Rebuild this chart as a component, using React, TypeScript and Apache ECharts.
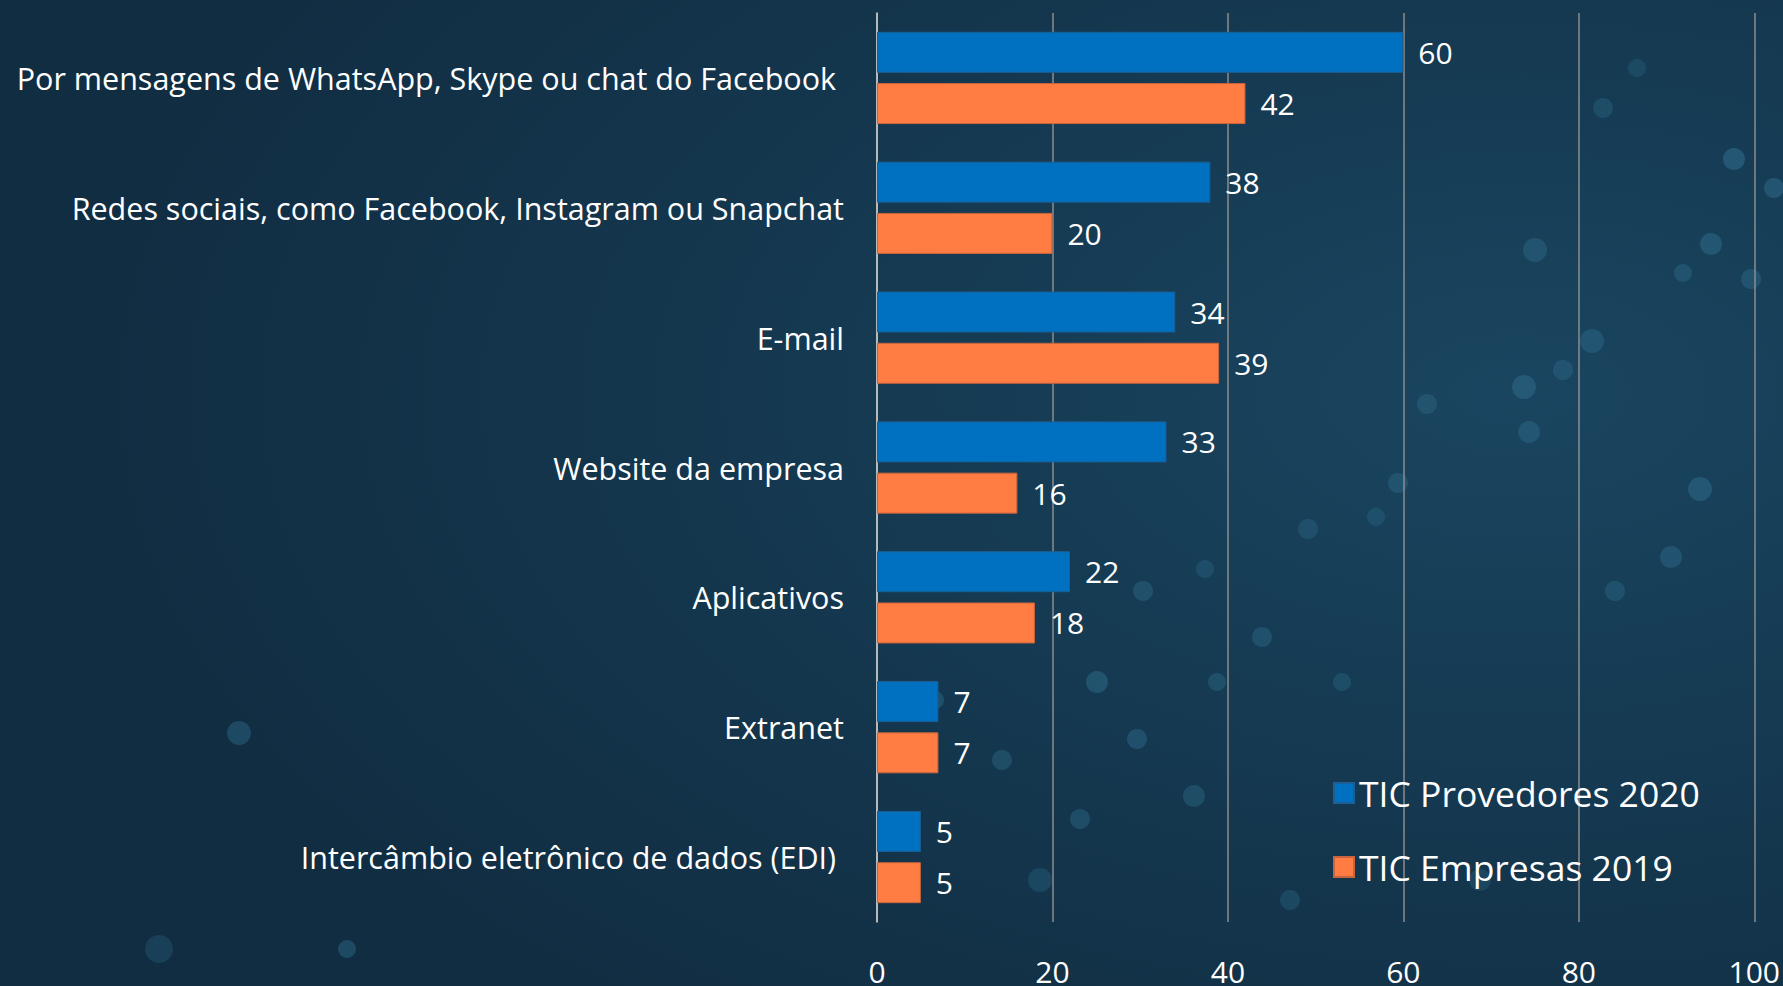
import React, { useEffect, useRef } from "react";
import * as echarts from "echarts";

const categories = [
  "Por mensagens de WhatsApp, Skype ou chat do Facebook ",
  "Redes sociais, como Facebook, Instagram ou Snapchat",
  "E-mail",
  "Website da empresa",
  "Aplicativos",
  "Extranet",
  "Intercâmbio eletrônico de dados (EDI) ",
];
const seriesNames = ["TIC Provedores 2020", "TIC Empresas 2019"];
const provedores2020 = [60, 38, 34, 33, 22, 7, 5];
const empresas2019 = [42, 20, 39, 16, 18, 7, 5];
const xTicks = { min: 0, max: 100, interval: 20 };

// decorative bokeh dots of the background photo (not data)
const bokeh: [number, number, number, number][] = [
  [1734, 159, 11, 0.55], [1774, 188, 10, 0.5], [1535, 250, 12, 0.45], [1711, 244, 11, 0.5],
  [1683, 273, 9, 0.4], [1751, 279, 10, 0.45], [1592, 341, 12, 0.45], [1563, 370, 10, 0.4],
  [1524, 387, 12, 0.5], [1427, 404, 10, 0.4], [1529, 432, 11, 0.45], [1700, 489, 12, 0.5],
  [1671, 557, 11, 0.45], [1615, 591, 10, 0.4], [1398, 483, 10, 0.4], [1376, 517, 9, 0.35],
  [1308, 529, 10, 0.35], [1205, 569, 9, 0.35], [1143, 591, 10, 0.4], [1097, 682, 11, 0.5],
  [1137, 739, 10, 0.45], [1217, 682, 9, 0.4], [1262, 637, 10, 0.4], [1342, 682, 9, 0.35],
  [1080, 819, 10, 0.4], [1194, 796, 11, 0.4], [239, 733, 12, 0.45], [347, 949, 9, 0.45],
  [159, 949, 14, 0.3], [1603, 108, 10, 0.35], [1637, 68, 9, 0.3], [1002, 760, 10, 0.4],
  [935, 700, 9, 0.45], [1040, 880, 12, 0.35], [1290, 900, 10, 0.35], [1480, 880, 11, 0.3],
];

const FONT = "'Open Sans', 'Noto Sans', sans-serif";

export default function App() {
  const ref = useRef<HTMLDivElement>(null);
  useEffect(() => {
    document.body.style.margin = "0";
    const chart = echarts.init(ref.current!, null, { renderer: "svg" });
    chart.setOption({
      animation: false,
      backgroundColor: {
        type: "radial",
        x: 0.85,
        y: 0.4,
        r: 0.8,
        colorStops: [
          { offset: 0, color: "#1a4560" },
          { offset: 0.45, color: "#153a52" },
          { offset: 1, color: "#112d42" },
        ],
      },
      textStyle: { fontFamily: FONT },
      graphic: bokeh.map(([x, y, r, o]) => ({
        type: "circle",
        silent: true,
        z: -10,
        shape: { cx: x, cy: y, r },
        style: { fill: "#2f6d8c", opacity: o },
      })),
      grid: { left: 877, right: 28, top: 13, bottom: 63, containLabel: false },
      legend: {
        orient: "vertical",
        left: 1328,
        top: 770,
        itemWidth: 20,
        itemHeight: 20,
        itemGap: 38,
        icon: "rect",
        textStyle: { color: "#ffffff", fontSize: 35.5, fontFamily: FONT },
        data: seriesNames,
      },
      xAxis: {
        type: "value",
        min: xTicks.min,
        max: xTicks.max,
        interval: xTicks.interval,
        axisLine: { show: false },
        axisTick: { show: false },
        splitLine: { show: true, lineStyle: { color: "#8c8c8c", width: 1.5 } },
        axisLabel: { color: "#ffffff", fontSize: 30, margin: 34, fontFamily: FONT },
      },
      yAxis: {
        type: "category",
        inverse: true,
        data: categories,
        axisLine: { show: true, lineStyle: { color: "#d0d0d0", width: 1.5 } },
        axisTick: { show: false },
        axisLabel: { color: "#ffffff", fontSize: 30.5, margin: 33, fontFamily: FONT },
      },
      series: [
        {
          name: seriesNames[0],
          type: "bar",
          data: provedores2020,
          barWidth: 41,
          barGap: "25%",
          itemStyle: { color: "#0070c0", borderColor: "#1b5f94", borderWidth: 1 },
          label: { show: true, position: "right", distance: 15, color: "#ffffff", fontSize: 30, fontFamily: FONT },
        },
        {
          name: seriesNames[1],
          type: "bar",
          data: empresas2019,
          barWidth: 41,
          barGap: "25%",
          itemStyle: { color: "#ff7c43", borderColor: "#c8653c", borderWidth: 1 },
          label: { show: true, position: "right", distance: 15, color: "#ffffff", fontSize: 30, fontFamily: FONT },
        },
      ],
    });
    return () => chart.dispose();
  }, []);
  return <div ref={ref} style={{ width: 1783, height: 986 }} />;
}
